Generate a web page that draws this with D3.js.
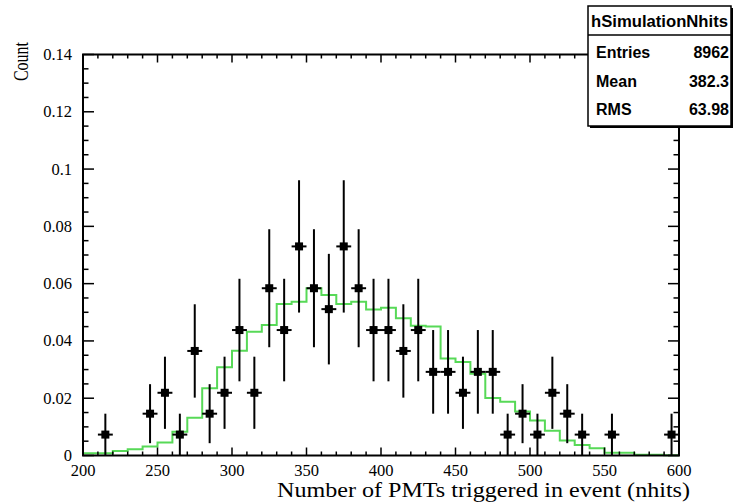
<!DOCTYPE html>
<html>
<head>
<meta charset="utf-8">
<script src="https://cdn.jsdelivr.net/npm/d3@7"></script>
<style>
  html, body { margin: 0; padding: 0; background: #ffffff; }
  svg { display: block; }
</style>
</head>
<body>
<div id="chart"></div>
<script>
// Observed events: bin centres (nhits) and normalised counts with their errors
const dataCenters = [215, 245, 255, 265, 275, 285, 295, 305, 315, 325, 335, 345, 355, 365, 375, 385, 395,
                     405, 415, 425, 435, 445, 455, 465, 475, 485, 495, 505, 515, 525, 535, 555, 595];
const dataValues  = [0.0073, 0.0146, 0.0219, 0.0073, 0.0365, 0.0146, 0.0219, 0.0438, 0.0219, 0.0584, 0.0438,
                     0.0730, 0.0584, 0.0511, 0.0730, 0.0584, 0.0438, 0.0438, 0.0365, 0.0438, 0.0292, 0.0292,
                     0.0219, 0.0292, 0.0292, 0.0073, 0.0146, 0.0073, 0.0219, 0.0146, 0.0073, 0.0073, 0.0073];
const dataErrors  = [0.0073, 0.0103, 0.0126, 0.0073, 0.0163, 0.0103, 0.0126, 0.0179, 0.0126, 0.0206, 0.0179,
                     0.0231, 0.0206, 0.0193, 0.0231, 0.0206, 0.0179, 0.0179, 0.0163, 0.0179, 0.0146, 0.0146,
                     0.0126, 0.0146, 0.0146, 0.0073, 0.0103, 0.0073, 0.0126, 0.0103, 0.0073, 0.0073, 0.0073];
const dataHalfWidth = 5;

// Simulated distribution: bin lower edges and normalised contents
const simBinLow = [200, 210, 220, 230, 240, 250, 260, 270, 280, 290, 300, 310, 320, 330, 340, 350, 360, 370, 380, 390,
                   400, 410, 420, 430, 440, 450, 460, 470, 480, 490, 500, 510, 520, 530, 540, 550, 560, 570, 580, 590];
const simValues = [0.0008, 0.0008, 0.0016, 0.0022, 0.0031, 0.0045, 0.0083, 0.0132, 0.0235, 0.0308,
                   0.0366, 0.0432, 0.0456, 0.0529, 0.0537, 0.0584, 0.0560, 0.0529, 0.0537, 0.0510,
                   0.0516, 0.0479, 0.0453, 0.0450, 0.0339, 0.0326, 0.0285, 0.0201, 0.0188, 0.0154,
                   0.0122, 0.0086, 0.0052, 0.0037, 0.0025, 0.0010, 0.0010, 0.0003, 0.0003, 0.0001];
const simBinWidth = 10;

// Axes
const xDomain = [200, 600];
const yDomain = [0, 0.14];
const xMajorTicks = [200, 250, 300, 350, 400, 450, 500, 550, 600];
const xTickLabels = ["200", "250", "300", "350", "400", "450", "500", "550", "600"];
const yMajorTicks = [0, 0.02, 0.04, 0.06, 0.08, 0.10, 0.12, 0.14];
const yTickLabels = ["0", "0.02", "0.04", "0.06", "0.08", "0.1", "0.12", "0.14"];
const xMinorStep = 10;
const yMinorStep = 0.005;
const xTitle = "Number of PMTs triggered in event (nhits)";
const yTitle = "Count";

// Statistics box
const statsTitle = "hSimulationNhits";
const statsNames = ["Entries", "Mean", "RMS"];
const statsValues = ["8962", "382.3", "63.98"];

const W = 735, H = 502;
const frame = { left: 83, right: 679, top: 54.5, bottom: 455.5 };
const simColor = "#57d957";
const serif = "'Liberation Serif', 'Times New Roman', serif";
const sans = "'Liberation Sans', Arial, Helvetica, sans-serif";

const svg = d3.select("#chart").append("svg")
  .attr("width", W).attr("height", H)
  .attr("viewBox", `0 0 ${W} ${H}`);

svg.append("rect").attr("width", W).attr("height", H).attr("fill", "#ffffff");

const x = d3.scaleLinear().domain(xDomain).range([frame.left, frame.right]);
const y = d3.scaleLinear().domain(yDomain).range([frame.bottom, frame.top]);

// Simulated histogram as a step outline
const simPoints = [];
simBinLow.forEach((lo, i) => {
  simPoints.push([lo, simValues[i]]);
  simPoints.push([lo + simBinWidth, simValues[i]]);
});
const stepLine = d3.line().x(d => x(d[0])).y(d => y(d[1]));
svg.append("path")
  .attr("d", stepLine(simPoints))
  .attr("fill", "none")
  .attr("stroke", simColor)
  .attr("stroke-width", 2);

// Data points with error bars
const pts = svg.append("g").attr("class", "data");
dataCenters.forEach((c, i) => {
  const v = dataValues[i], e = dataErrors[i];
  pts.append("line")
    .attr("x1", x(c)).attr("x2", x(c))
    .attr("y1", y(Math.max(0, v - e))).attr("y2", y(v + e))
    .attr("stroke", "#000").attr("stroke-width", 2);
  pts.append("line")
    .attr("x1", x(c - dataHalfWidth)).attr("x2", x(c + dataHalfWidth))
    .attr("y1", y(v)).attr("y2", y(v))
    .attr("stroke", "#000").attr("stroke-width", 2);
  pts.append("rect")
    .attr("x", x(c) - 4).attr("y", y(v) - 4)
    .attr("width", 8).attr("height", 8)
    .attr("fill", "#000");
});

// Frame
svg.append("rect")
  .attr("x", frame.left).attr("y", frame.top)
  .attr("width", frame.right - frame.left).attr("height", frame.bottom - frame.top)
  .attr("fill", "none").attr("stroke", "#000").attr("stroke-width", 2);

// Ticks drawn inward on all four sides
const tickG = svg.append("g").attr("stroke", "#000").attr("stroke-width", 1.5);
const xMinor = d3.range(xDomain[0], xDomain[1] + 1e-9, xMinorStep);
const yMinor = d3.range(0, yDomain[1] + 1e-9, yMinorStep);
const isMajorX = v => xMajorTicks.some(t => Math.abs(t - v) < 1e-6);
const isMajorY = v => yMajorTicks.some(t => Math.abs(t - v) < 1e-6);
xMinor.forEach(v => {
  const len = isMajorX(v) ? 8 : 4;
  tickG.append("line").attr("x1", x(v)).attr("x2", x(v))
    .attr("y1", frame.bottom).attr("y2", frame.bottom - len);
  tickG.append("line").attr("x1", x(v)).attr("x2", x(v))
    .attr("y1", frame.top).attr("y2", frame.top + len);
});
yMinor.forEach(v => {
  const len = isMajorY(v) ? 11 : 5.5;
  tickG.append("line").attr("x1", frame.left).attr("x2", frame.left + len)
    .attr("y1", y(v)).attr("y2", y(v));
  tickG.append("line").attr("x1", frame.right).attr("x2", frame.right - len)
    .attr("y1", y(v)).attr("y2", y(v));
});

// Tick labels
svg.append("g").selectAll("text").data(xMajorTicks).join("text")
  .attr("x", d => x(d)).attr("y", 476)
  .attr("text-anchor", "middle")
  .attr("font-family", serif).attr("font-size", 16.5)
  .text((d, i) => xTickLabels[i]);
svg.append("g").selectAll("text").data(yMajorTicks).join("text")
  .attr("x", 72).attr("y", d => y(d) + 5.5)
  .attr("text-anchor", "end")
  .attr("font-family", serif).attr("font-size", 16.5)
  .text((d, i) => yTickLabels[i]);

// Axis titles
svg.append("text")
  .attr("x", 690).attr("y", 497)
  .attr("text-anchor", "end")
  .attr("font-family", serif).attr("font-size", 20)
  .attr("textLength", 413).attr("lengthAdjust", "spacingAndGlyphs")
  .text(xTitle);
svg.append("text")
  .attr("transform", `translate(28, 42) scale(1.3, 1) rotate(-90)`)
  .attr("text-anchor", "end")
  .attr("font-family", serif).attr("font-size", 16)
  .text(yTitle);

// Statistics box with drop shadow
const box = { x: 588, y: 6, w: 143, h: 120, head: 29 };
svg.append("rect")
  .attr("x", box.x + 2).attr("y", box.y + 2).attr("width", box.w).attr("height", box.h)
  .attr("fill", "#000");
svg.append("rect")
  .attr("x", box.x).attr("y", box.y).attr("width", box.w).attr("height", box.h)
  .attr("fill", "#fff").attr("stroke", "#000").attr("stroke-width", 1.5);
svg.append("line")
  .attr("x1", box.x).attr("x2", box.x + box.w)
  .attr("y1", box.y + box.head).attr("y2", box.y + box.head)
  .attr("stroke", "#000").attr("stroke-width", 1.5);
svg.append("text")
  .attr("x", box.x + box.w / 2).attr("y", box.y + 21)
  .attr("text-anchor", "middle")
  .attr("font-family", sans).attr("font-weight", "bold").attr("font-size", 16)
  .attr("textLength", 137).attr("lengthAdjust", "spacingAndGlyphs")
  .text(statsTitle);
const rowY = [58, 87, 115];
statsNames.forEach((n, i) => {
  svg.append("text")
    .attr("x", box.x + 8).attr("y", rowY[i])
    .attr("font-family", sans).attr("font-weight", "bold").attr("font-size", 16)
    .text(n);
  svg.append("text")
    .attr("x", box.x + box.w - 2).attr("y", rowY[i])
    .attr("text-anchor", "end")
    .attr("font-family", sans).attr("font-weight", "bold").attr("font-size", 16)
    .text(statsValues[i]);
});
</script>
</body>
</html>
